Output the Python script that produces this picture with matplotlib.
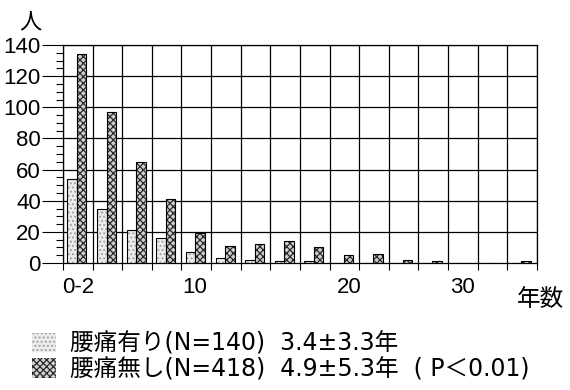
import matplotlib.pyplot as plt
import matplotlib
import numpy as np

plt.rcParams['font.family'] = ['Noto Sans CJK JP', 'DejaVu Sans']
plt.rcParams['hatch.linewidth'] = 0.9

# 3-year bins (16 bins), counts of people
with_pain = [54, 35, 21, 16, 7, 3, 2, 1, 1, 0, 0, 0, 0, 0, 0, 0]
without_pain = [134, 97, 65, 41, 19, 11, 12, 14, 10, 5, 6, 2, 1, 0, 0, 1]
tick_pos = [0.5, 4.45, 9.65, 13.5]
tick_labels = ['0-2', '10', '20', '30']
label_with = '腰痛有り(N=140)  3.4±3.3年'
label_without = '腰痛無し(N=418)  4.9±5.3年  ( P＜0.01)'

num_font = ['Liberation Sans Narrow', 'Liberation Sans', 'DejaVu Sans']

x = np.arange(len(with_pain))
w = 0.32

fig = plt.figure(figsize=(5.7, 3.9), dpi=100)
ax = fig.add_axes([0.1105, 0.3256, 0.8316, 0.559])

# textured fill, then black outline on top
b1 = ax.bar(x + 0.47, with_pain, width=-w, align='edge', facecolor='#ececec',
            edgecolor='#a0a0a0', hatch='....', linewidth=0, zorder=3)
b2 = ax.bar(x + 0.47, without_pain, width=w, align='edge', facecolor='#cfcfcf',
            edgecolor='#2a2a2a', hatch='xxxxx', linewidth=0, zorder=3)
ax.bar(x + 0.47, with_pain, width=-w, align='edge', fill=False,
       edgecolor='black', linewidth=0.8, zorder=4)
ax.bar(x + 0.47, without_pain, width=w, align='edge', fill=False,
       edgecolor='black', linewidth=0.8, zorder=4)

ax.set_xlim(0, 16)
ax.set_ylim(0, 140)
ax.set_yticks(range(0, 141, 20))
ax.set_yticks(range(0, 141, 5), minor=True)
ax.set_xticks(range(0, 17), minor=True)
ax.set_xticks(tick_pos)
ax.set_xticklabels(tick_labels, fontsize=16, family=num_font)
ax.set_yticklabels([str(v) for v in range(0, 141, 20)], fontsize=16, family=num_font)
ax.tick_params(axis='x', which='major', length=0, pad=10)
ax.tick_params(axis='x', which='minor', length=5, width=0.8, direction='out')
ax.tick_params(axis='y', which='major', length=15, width=0.8, pad=1)
ax.tick_params(axis='y', which='minor', length=5, width=0.8)

for i in range(0, 17):
    ax.axvline(i, color='black', linewidth=0.9, zorder=1)
for v in range(20, 141, 20):
    ax.axhline(v, color='black', linewidth=0.9, zorder=1)
for s in ax.spines.values():
    s.set_linewidth(0.9)

fig.text(0.053, 0.94, '人', fontsize=16, ha='center', va='center')
fig.text(0.949, 0.232, '年数', fontsize=17, ha='center', va='center')

fig.legend([b1, b2], [label_with, label_without], loc='upper left',
           bbox_to_anchor=(0.056, 0.15), frameon=False,
           prop={'family': ['DejaVu Sans', 'Noto Sans CJK JP'], 'size': 17},
           handlelength=1.0, handleheight=0.9, handletextpad=0.6,
           labelspacing=0.08, borderpad=0, borderaxespad=0)

plt.savefig('out.png', dpi=100)
